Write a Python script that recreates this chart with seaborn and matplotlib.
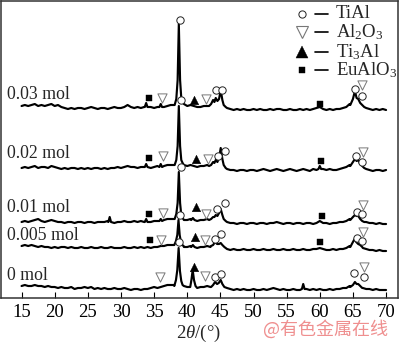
import numpy as np
import pandas as pd
import matplotlib
matplotlib.use("Agg")
import matplotlib.pyplot as plt
import seaborn as sns

# ---------------- data ----------------
samples = ["0.03 mol", "0.02 mol", "0.01 mol", "0.005 mol", "0 mol"]
offsets = [190, 130, 76, 51, 10]           # vertical stacking offsets
two_theta_grid = np.arange(15.0, 70.01, 0.5)
x_ticks = [15, 20, 25, 30, 35, 40, 45, 50, 55, 60, 65, 70]

# background (noise) intensities on the 0.5 deg grid, 15..70
noise_003 = [2, 3, 2, 3, 4, 2, 3, 2, 3, 4,
             2, 3, 1, 0, -1, 0, -1, 0, 0, -1,
             0, 1, 0, -1, 0, 0, -1, 0, 1, 0,
             0, 1, 3, 1, 0, 1, 0, 1, 1, 1,
             0, 1, 2, 1, 2, 3, 3, 3, 3, 3,
             2, 3, 2, 1, 1, 2, 2, 3, 4, 8,
             6, 2, 0, -1, -2, -1, -2, -1, -2, -2,
             -1, -2, -1, -2, -2, -1, -2, -1, -1, -2,
             -2, -1, -2, -2, -1, -2, -1, -2, -1, 0,
             1, -1, -2, -1, -2, -1, -1, 0, 1, 4,
             10, 8, 4, 2, 0, -1, -2, -1, -2, -1,
             -2]
noise_002 = [0, 1, 0, 1, 2, 0, 1, 1, 0, 2,
             1, 0, -1, 0, -1, 0, 0, -1, 0, -1,
             0, -1, 0, 0, -1, 0, -1, 0, 0, 1,
             0, 1, 2, 1, 1, 0, 1, 1, 1, 0,
             1, 2, 1, 2, 3, 3, 3, 3, 3, 2,
             2, 3, 2, 1, 2, 2, 3, 2, 4, 7,
             6, 2, -1, -2, -2, -3, -2, -2, -3, -2,
             -2, -3, -2, -1, -2, -3, -2, -1, -2, -3,
             -2, -1, -2, -3, -2, -1, -2, -3, -1, -2,
             0, -1, -2, -1, -2, -2, -1, 0, 1, 3,
             6, 5, 3, 1, -1, -2, -3, -2, -2, -3,
             -2]
noise_001 = [0, 1, 0, 1, 2, 3, 1, 0, 1, 2,
             1, 0, 0, -1, 0, 0, -1, 0, 0, -1,
             0, 0, -1, 0, 0, 0, 1, 0, -1, 0,
             0, 1, 0, 0, 1, 0, 1, 0, 1, 0,
             1, 1, 2, 2, 3, 3, 3, 3, 3, 2,
             2, 3, 2, 1, 2, 2, 3, 4, 5, 7,
             8, 3, 0, -1, -1, -2, -1, -1, -2, -1,
             -1, -2, -1, -1, -2, -1, -1, 0, -1, -2,
             -1, -1, -2, -1, -1, -2, -1, -1, -2, -1,
             1, -1, -1, -2, -1, -1, 0, 0, 1, 3,
             6, 5, 3, 2, 0, -1, -1, -2, -1, -2,
             -2]
noise_0005 = [1, 2, 1, 2, 1, 0, 1, 0, 0, -1,
              0, -1, 0, 0, -1, 0, -1, -1, 0, -1,
              -1, 0, -1, -1, 0, -1, -1, 0, -1, -1,
              -1, 0, -1, -1, 0, -1, 0, -1, 0, -1,
              0, 0, 1, 1, 2, 2, 2, 2, 1, 0,
              0, 1, 0, -1, 0, 0, 1, 0, 2, 4,
              3, 0, -2, -3, -2, -3, -3, -2, -3, -3,
              -2, -3, -3, -2, -3, -3, -2, -3, -3, -2,
              -3, -3, -2, -3, -3, -2, -3, -3, -2, -2,
              -1, -2, -3, -3, -2, -3, -2, -2, -1, 1,
              5, 2, 0, -1, -2, -3, -3, -4, -3, -4,
              -4]
noise_0 = [2, 3, 2, 2, 3, 2, 2, 1, 2, 1,
           1, 0, 1, 0, 0, 1, -1, 0, 0, 1,
           0, 1, -1, 0, -1, 0, -1, -1, 0, -1,
           -1, 0, -1, -2, -1, -1, -2, -1, -1, 0,
           1, 0, 1, 2, 3, 3, 3, 3, 3, 1,
           1, 3, 1, 0, 1, 1, 2, 1, 3, 5,
           7, 2, 0, -1, -2, -1, -2, -1, -2, -2,
           -1, -2, -2, -1, -2, -1, 0, -1, -2, -1,
           -2, -2, -1, -2, -2, 2, -1, -2, -1, -2,
           -1, -2, -2, -1, -2, -1, -1, 0, 0, 2,
           4, 3, 2, 0, -1, -1, -2, -1, -2, -2,
           -2]

# diffraction peaks: (2theta, intensity) points
peaks_003 = [
    [(33.6, 1), (33.8, 5), (34.0, 1)],
    [(35.8, 1), (36.0, 4), (36.2, 1)],
    [(38.1, 3), (38.35, 9), (38.55, 28), (38.73, 84), (38.92, 28), (39.1, 10), (39.3, 6), (39.5, 4)],
    [(43.3, 2), (43.6, 4), (43.9, 8), (44.1, 6), (44.3, 10), (44.55, 7), (44.8, 9), (45.05, 18), (45.3, 8), (45.5, 3), (45.8, 1)],
    [(64.6, 3), (65.0, 9), (65.3, 17), (65.55, 10), (65.8, 9), (66.1, 5), (66.4, 3), (66.7, 1)],
]
peaks_002 = [
    [(33.6, 1), (33.8, 4), (34.0, 1)],
    [(35.8, 1), (36.0, 4), (36.2, 1)],
    [(38.1, 3), (38.35, 8), (38.55, 22), (38.73, 62), (38.92, 22), (39.1, 8), (39.3, 5), (39.5, 3)],
    [(43.3, 2), (43.6, 3), (43.9, 6), (44.1, 5), (44.3, 8), (44.55, 6), (44.8, 10), (45.05, 20), (45.3, 9), (45.5, 3), (45.8, 0)],
    [(59.8, -1), (60.0, 2), (60.2, -1)],
    [(64.6, 2), (65.0, 6), (65.3, 9), (65.55, 7), (65.8, 8), (66.1, 4), (66.4, 2), (66.7, 0)],
]
peaks_001 = [
    [(28.1, 0), (28.3, 5), (28.5, 0)],
    [(33.6, 0), (33.8, 3), (34.0, 0)],
    [(35.8, 1), (36.0, 3), (36.2, 1)],
    [(38.1, 3), (38.35, 8), (38.55, 19), (38.73, 50), (38.92, 19), (39.1, 7), (39.3, 4), (39.5, 2)],
    [(40.6, 2), (40.85, 4), (41.1, 2)],
    [(43.3, 2), (43.6, 3), (43.9, 5), (44.1, 5), (44.3, 7), (44.55, 6), (44.8, 9), (45.05, 13), (45.3, 7), (45.5, 3), (45.8, 1)],
    [(64.6, 2), (65.0, 5), (65.3, 7), (65.55, 6), (65.8, 6), (66.1, 3), (66.4, 1), (66.7, 0)],
]
peaks_0005 = [
    [(38.05, 2), (38.3, 6), (38.5, 12), (38.68, 27), (38.86, 12), (39.05, 5), (39.25, 2), (39.45, 1)],
    [(40.6, 0), (40.85, 2), (41.1, 0)],
    [(43.6, 1), (43.9, 2), (44.2, 5), (44.5, 3), (44.8, 3), (45.05, 4), (45.3, 2), (45.6, 0)],
    [(64.6, 0), (65.0, 5), (65.25, 8), (65.5, 5), (65.8, 3), (66.1, 2), (66.4, 0)],
]
peaks_0 = [
    [(38.05, 2), (38.3, 8), (38.5, 18), (38.7, 40), (38.9, 17), (39.1, 7), (39.3, 3), (39.5, 2)],
    [(40.45, 1), (40.63, 8), (40.82, 18), (41.02, 8), (41.25, 2)],
    [(43.6, 1), (43.9, 3), (44.2, 6), (44.5, 4), (44.75, 5), (45.05, 8), (45.3, 4), (45.6, 1)],
    [(57.3, -1), (57.5, 4), (57.7, -1)],
    [(64.6, 1), (65.0, 3), (65.3, 6), (65.55, 4), (65.8, 4), (66.1, 2), (66.4, 0)],
]
noises = [noise_003, noise_002, noise_001, noise_0005, noise_0]
peaks = [peaks_003, peaks_002, peaks_001, peaks_0005, peaks_0]

# phase markers (2theta, stacked intensity)
tial_x = [38.9, 39.0, 44.3, 45.3, 65.3, 66.3,
          39.05, 44.6, 45.75, 65.5, 66.35,
          38.85, 44.55, 45.65, 65.55, 66.3,
          38.8, 44.15, 45.15, 65.55, 66.35,
          44.15, 45.05, 65.2, 66.6]
tial_y = [278, 198, 208, 208, 209, 202,
          131, 142, 147, 142, 136,
          83, 89, 95, 86, 84,
          56, 59, 64, 60, 57,
          21, 24, 25, 21]
al2o3_x = [36.15, 42.9, 66.3, 36.3, 43.1, 66.5, 36.3, 42.9, 66.5, 36.1, 42.7, 66.5, 35.85, 42.65, 66.6]
al2o3_y = [200, 199, 213, 142, 139, 146, 85, 84, 93, 58, 58, 66, 21, 22, 31]
ti3al_x = [40.95, 41.25, 41.25, 41.15, 41.05]
ti3al_y = [198, 139, 91, 61, 31]
eualo3_x = [34.2, 60.1, 34.2, 60.25, 34.2, 60.4, 34.35, 60.1]
eualo3_y = [200, 194, 140, 137, 84, 82, 58, 56]

phases = ["TiAl", "Al$_2$O$_3$", "Ti$_3$Al", "EuAlO$_3$"]

# ---------------- build tables ----------------
rows = []
for name, off, nz, pk in zip(samples, offsets, noises, peaks):
    keep = np.ones(len(two_theta_grid), bool)
    for blk in pk:
        lo, hi = blk[0][0], blk[-1][0]
        keep &= ~((two_theta_grid >= lo) & (two_theta_grid <= hi))
    pts = [(x, y) for x, y, k in zip(two_theta_grid, nz, keep) if k]
    for blk in pk:
        pts.extend(blk)
    pts.sort()
    for x, y in pts:
        rows.append({"sample": name, "two_theta": x, "intensity": y + off})
df = pd.DataFrame(rows)

# ---------------- plot ----------------
sns.set_style("ticks")
plt.rcParams["font.family"] = ["Liberation Serif", "DejaVu Serif"]
plt.rcParams["mathtext.fontset"] = "custom"
plt.rcParams["mathtext.rm"] = "Liberation Serif"
plt.rcParams["mathtext.it"] = "Liberation Serif:italic"

fig = plt.figure(figsize=(4.0, 3.45), dpi=100)
ax = fig.add_axes([1 / 400, 1 - 298 / 345, 397 / 400, 297 / 345])

sns.lineplot(data=df, x="two_theta", y="intensity", hue="sample",
             palette={s: "black" for s in samples}, estimator=None,
             units="sample", sort=True, lw=1.55, legend=False, ax=ax)

sns.scatterplot(x=tial_x, y=tial_y, marker="o", s=28, facecolor="white",
                edgecolor="#222222", linewidth=0.7, ax=ax, zorder=5)
sns.scatterplot(x=al2o3_x, y=al2o3_y, marker="v", s=44, facecolor="white",
                edgecolor="#777777", linewidth=0.7, ax=ax, zorder=5)
sns.scatterplot(x=ti3al_x, y=ti3al_y, marker="^", s=38, color="black",
                edgecolor="black", linewidth=0.3, ax=ax, zorder=5)
sns.scatterplot(x=eualo3_x, y=eualo3_y, marker="s", s=22, color="black",
                edgecolor="black", linewidth=0.3, ax=ax, zorder=5)

ax.set_xlim(11.9, 71.8)
ax.set_ylim(0, 297)
ax.set_xticks(x_ticks)
ax.set_xticklabels([str(t) for t in x_ticks])
ax.set_yticks([])
ax.set_ylabel("")
ax.tick_params(axis="x", direction="in", length=4, width=0.8, pad=4,
               labelsize=13.5, colors="black")
for sp in ax.spines.values():
    sp.set_visible(True)
    sp.set_color("#333333")
    sp.set_linewidth(1.1)

ax.set_xlabel(r"$\mathit{2\theta}$/(°)", fontsize=13.5)
ax.xaxis.set_label_coords((198 - 1) / 397, (298 - 333) / 297)
ax.xaxis.label.set_va("center")

# sample labels
label_y = [94, 154, 207, 235, 276]
for name, ly in zip(samples, label_y):
    fig.text(7 / 400, 1 - ly / 345, name, ha="left", va="center", fontsize=12.8)

# legend (marker — name)
leg_y = [14, 32, 52, 70]
leg_style = [dict(marker="o", ms=5.2, mfc="white", mec="#222222", mew=0.7),
             dict(marker="v", ms=8.5, mfc="white", mec="#777777", mew=0.8),
             dict(marker="^", ms=8.5, mfc="black", mec="black", mew=0.3),
             dict(marker="s", ms=5, mfc="black", mec="black", mew=0.3)]
for ph, ly, st in zip(phases, leg_y, leg_style):
    fig.add_artist(plt.Line2D([302 / 400], [1 - ly / 345], ls="none",
                              transform=fig.transFigure, **st))
    fig.add_artist(plt.Line2D([315 / 400, 328 / 400], [1 - ly / 345] * 2,
                              color="black", lw=1.2, transform=fig.transFigure))
    fig.text(336 / 400, 1 - ly / 345, ph, ha="left", va="center", fontsize=13.5)

# watermark
fig.text(326 / 400, 1 - 329 / 345, "@有色金属在线", ha="center", va="center",
         fontsize=13, color="#ef8f8f",
         family=["Noto Sans CJK SC", "DejaVu Sans"])

fig.savefig("out.png", dpi=100)
